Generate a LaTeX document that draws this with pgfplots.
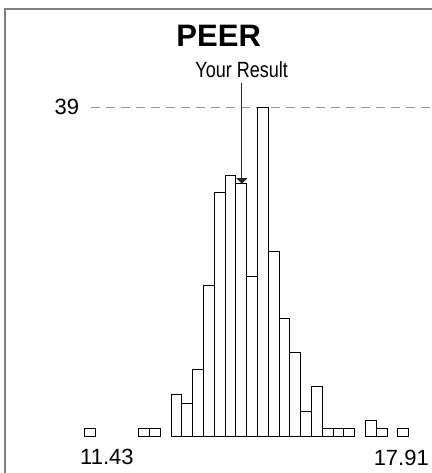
\documentclass[border=0pt]{standalone}
\usepackage{fontspec}
\setmainfont{Liberation Sans}
\newfontfamily\narrowfont[FakeStretch=0.82]{Liberation Sans}
\usepackage{pgfplots}
\pgfplotsset{compat=1.18}
\usetikzlibrary{arrows.meta}
\definecolor{framegray}{RGB}{128,128,128}
\definecolor{dashgray}{RGB}{150,150,150}
\begin{document}
\begin{tikzpicture}[x=1pt,y=1pt]
\path[use as bounding box] (0,0) rectangle (431,473);
\draw[framegray, line width=2pt] (4.5,-5) -- (4.5,464) -- (440,464);
\begin{axis}[
  at={(84.7pt,36pt)}, anchor=origin,
  scale only axis, width=324pt, height=329.3pt,
  xmin=0, xmax=30, ymin=0, ymax=39,
  hide axis, clip=false,
]
\addplot[dashgray, line width=1.2pt, dash pattern=on 9pt off 6pt] coordinates {(0.56,39) (32.5,39)};
\addplot[ybar, bar width=1, bar shift=0pt, fill=white, draw=black, line width=1pt] coordinates {
(0.5,1) (5.5,1) (6.5,1) (8.5,5) (9.5,4) (10.5,8) (11.5,18) (12.5,29) (13.5,31)
(14.5,30) (15.5,19) (16.5,39) (17.5,22) (18.5,14) (19.5,10) (20.5,3) (21.5,6)
(22.5,1) (23.5,1) (24.5,1) (26.5,2) (27.5,1) (29.5,1)};
\draw[black!85, line width=1pt, -{Triangle[width=11pt,length=5.5pt]}] (axis cs:14.55,41.9) -- (axis cs:14.55,30);
\end{axis}
\node[font=\bfseries\fontsize{31}{31}\selectfont, anchor=base, inner sep=0] at (218.7,426.3) {PEER};
\node[font=\narrowfont\fontsize{22}{22}\selectfont, anchor=base, inner sep=0] at (241.7,395.7) {Your Result};
\node[font=\fontsize{22}{22}\selectfont, anchor=base east, inner sep=0] at (79.3,358) {39};
\node[font=\fontsize{22}{22}\selectfont, anchor=base west, inner sep=0] at (80,8.5) {11.43};
\node[font=\fontsize{22}{22}\selectfont, anchor=base east, inner sep=0] at (429,8) {17.91};
\end{tikzpicture}
\end{document}
